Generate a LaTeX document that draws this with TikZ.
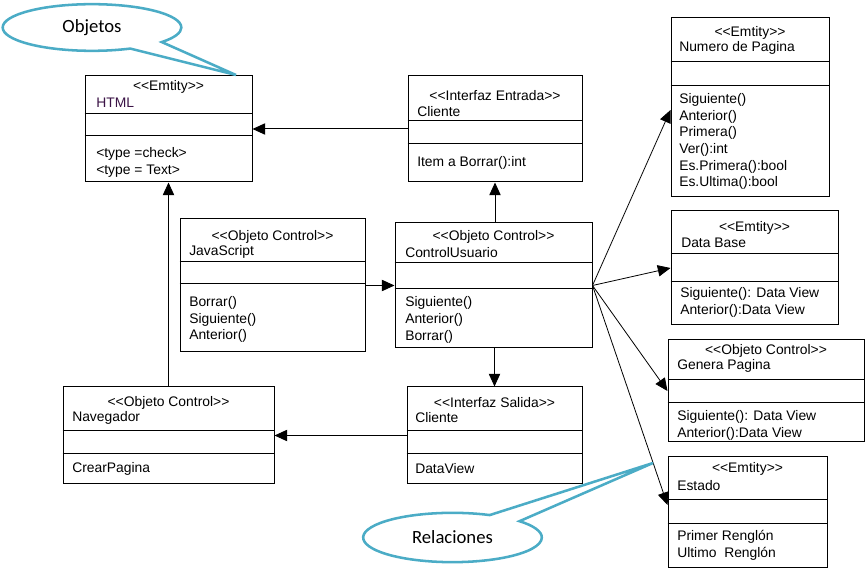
\documentclass[tikz,border=0pt]{standalone}
\usepackage{fontspec}
\usepackage{tikz}
\usetikzlibrary{fit, arrows.meta, shapes.callouts}
\newfontfamily\uml{Liberation Sans}
\newfontfamily\globofont{Carlito}
\definecolor{celeste}{HTML}{4BACC6}
\definecolor{morado}{HTML}{3B1346}

\tikzset{
  clase/.style={draw, inner sep=0pt, line width=0.75pt},
  divisor/.style={line width=0.75pt},
  estereotipo/.style={inner sep=0pt, font=\uml\fontsize{10.4}{12.5}\selectfont},
  texto/.style={estereotipo, anchor=west, align=left},
  flecha/.style={-{Triangle[length=9.5pt, width=8.5pt]}, line width=0.75pt},
  relacion/.style={flecha, line width=0.6pt},
  globo/.style={ellipse callout, draw=celeste, line width=1.9pt, fill=white,
    minimum width=134pt, font=\globofont\fontsize{14}{16}\selectfont}
}

\begin{document}
\begin{tikzpicture}[x=0.75pt, y=-0.75pt]
    \useasboundingbox (0,0) rectangle (865,570);

    % Clases
    \node[clase, fit={(85,76) (252,182)}] (html) {};
    \draw[divisor] (html.west |- 0,114) -- (html.east |- 0,114);
    \draw[divisor] (html.west |- 0,136) -- (html.east |- 0,136);
    \node[estereotipo] (htmlE) at (168.5,87) {<<Emtity>>};
    \node[texto, text=morado] (htmlN) at (96,103) {HTML};
    \node[texto] (htmlA) at (96,162.5) {<type =check>\\<type = Text>};

    \node[clase, fit={(408,76) (582,182)}] (entrada) {};
    \draw[divisor] (entrada.west |- 0,121) -- (entrada.east |- 0,121);
    \draw[divisor] (entrada.west |- 0,144) -- (entrada.east |- 0,144);
    \node[estereotipo] (entradaE) at (495,96) {<<Interfaz Entrada>>};
    \node[texto] (entradaN) at (417,112) {Cliente};
    \node[texto] (entradaM) at (417,163) {Item a Borrar():int};

    \node[clase, fit={(180,219) (365,352)}] (javascript) {};
    \draw[divisor] (javascript.west |- 0,262) -- (javascript.east |- 0,262);
    \draw[divisor] (javascript.west |- 0,284) -- (javascript.east |- 0,284);
    \node[estereotipo] (javascriptE) at (272.5,237) {<<Objeto Control>>};
    \node[texto] (javascriptN) at (189,252) {JavaScript};
    \node[texto] (javascriptM) at (189,319.5) {Borrar()\\Siguiente()\\Anterior()};

    \node[clase, fit={(395,223) (592,348)}] (control) {};
    \draw[divisor] (control.west |- 0,263) -- (control.east |- 0,263);
    \draw[divisor] (control.west |- 0,289) -- (control.east |- 0,289);
    \node[estereotipo] (controlE) at (493.5,237) {<<Objeto Control>>};
    \node[texto] (controlN) at (405,253) {ControlUsuario};
    \node[texto] (controlM) at (405,320) {Siguiente()\\Anterior()\\Borrar()};

    \node[clase, fit={(63,387) (274,484)}] (navegador) {};
    \draw[divisor] (navegador.west |- 0,431) -- (navegador.east |- 0,431);
    \draw[divisor] (navegador.west |- 0,454) -- (navegador.east |- 0,454);
    \node[estereotipo] (navegadorE) at (168.5,403) {<<Objeto Control>>};
    \node[texto] (navegadorN) at (72,418) {Navegador};
    \node[texto] (navegadorM) at (72,469) {CrearPagina};

    \node[clase, fit={(407,387) (582,484)}] (salida) {};
    \draw[divisor] (salida.west |- 0,431) -- (salida.east |- 0,431);
    \draw[divisor] (salida.west |- 0,454) -- (salida.east |- 0,454);
    \node[estereotipo] (salidaE) at (494.5,403) {<<Interfaz Salida>>};
    \node[texto] (salidaN) at (415,418) {Cliente};
    \node[texto] (salidaM) at (415,469) {DataView};

    \node[clase, fit={(671,18) (829,197)}] (numero) {};
    \draw[divisor] (numero.west |- 0,62) -- (numero.east |- 0,62);
    \draw[divisor] (numero.west |- 0,86) -- (numero.east |- 0,86);
    \node[estereotipo] (numeroE) at (750,33) {<<Emtity>>};
    \node[texto] (numeroN) at (679,48) {Numero de Pagina};
    \node[texto] (numeroM) at (679,141.5) {Siguiente()\\Anterior()\\Primera()\\Ver():int\\Es.Primera():bool\\Es.Ultima():bool};

    \node[clase, fit={(671,211) (838,325)}] (database) {};
    \draw[divisor] (database.west |- 0,254) -- (database.east |- 0,254);
    \draw[divisor] (database.west |- 0,282) -- (database.east |- 0,282);
    \node[estereotipo] (databaseE) at (754.5,228) {<<Emtity>>};
    \node[texto] (databaseN) at (681,243) {Data Base};
    \node[texto] (databaseM) at (680,302.5) {Siguiente(): Data View\\Anterior():Data View};

    \node[clase, fit={(668,340) (864,442)}] (genera) {};
    \draw[divisor] (genera.west |- 0,380) -- (genera.east |- 0,380);
    \draw[divisor] (genera.west |- 0,403) -- (genera.east |- 0,403);
    \node[estereotipo] (generaE) at (766,351) {<<Objeto Control>>};
    \node[texto] (generaN) at (677,366) {Genera Pagina};
    \node[texto] (generaM) at (677,425.5) {Siguiente(): Data View\\Anterior():Data View};

    \node[clase, fit={(668,457) (827,567)}] (estado) {};
    \draw[divisor] (estado.west |- 0,500) -- (estado.east |- 0,500);
    \draw[divisor] (estado.west |- 0,524) -- (estado.east |- 0,524);
    \node[estereotipo] (estadoE) at (747.5,469) {<<Emtity>>};
    \node[texto] (estadoN) at (677,486) {Estado};
    \node[texto] (estadoM) at (677,545.5) {Primer Renglón\\Ultimo\ \ Renglón};

    % Relaciones
    \draw[flecha] (entrada) -- (html); % de Cliente a HTML
    \draw[flecha] (control.north -| entrada.south) -- (entrada.south); % de ControlUsuario a Cliente
    \draw[flecha] (javascript) -- (control); % de JavaScript a ControlUsuario
    \draw[flecha] (control.south -| salida.north) -- (salida.north); % de ControlUsuario a Cliente
    \draw[flecha] (salida) -- (navegador); % de Cliente a Navegador
    \draw[flecha] (navegador) -- (html); % de Navegador a HTML
    \draw[relacion] (control.east) -- (numero.west |- 0,110);
    \draw[relacion] (control.east) -- (database.west |- 0,268);
    \draw[relacion] (control.east) -- (genera.west |- 0,391);
    \draw[relacion] (control.east) -- (estado.west |- 0,505);

    % Globos
    \node[globo, minimum height=35pt, callout pointer arc=26,
          callout absolute pointer={(236,75)}] (objetos) at (92,27.5) {Objetos};
    \node[globo, minimum height=37pt, callout pointer arc=24,
          callout absolute pointer={(653,463)}] (relaciones) at (452.5,537.5) {Relaciones};
\end{tikzpicture}
\end{document}
